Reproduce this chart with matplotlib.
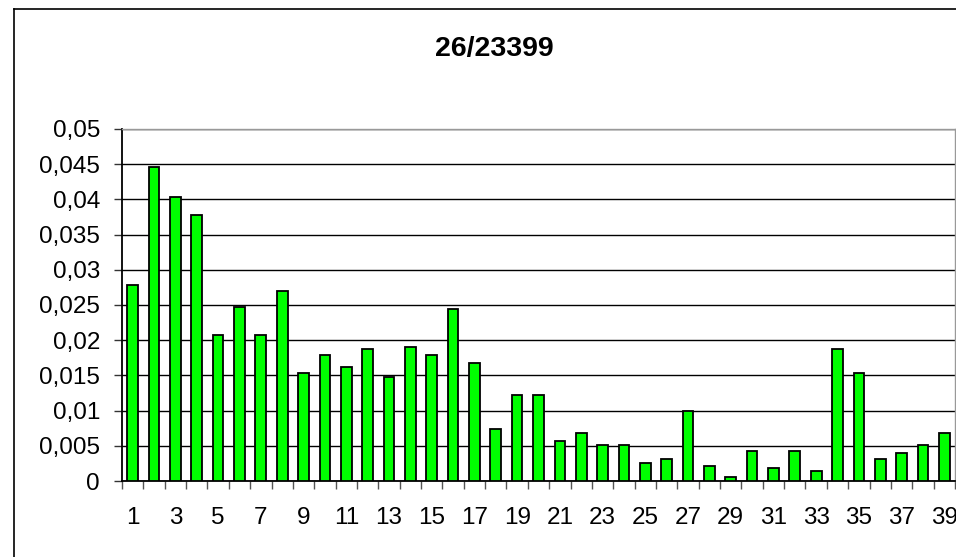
import numpy as np
import matplotlib
matplotlib.use('Agg')
import matplotlib.pyplot as plt
from matplotlib.lines import Line2D
from matplotlib.ticker import FuncFormatter, FixedLocator

plt.rcParams['font.family'] = ['Liberation Sans', 'DejaVu Sans']

title = '26/23399'
categories = list(range(1, 40))
values = [0.0279, 0.0446, 0.0403, 0.0378, 0.0208, 0.0247, 0.0208, 0.0270,
          0.0153, 0.0179, 0.0162, 0.0188, 0.0148, 0.0190, 0.0179, 0.0244,
          0.0167, 0.0074, 0.0122, 0.0122, 0.0057, 0.0068, 0.0051, 0.0051,
          0.0026, 0.0031, 0.0099, 0.0022, 0.0005, 0.0042, 0.0019, 0.0042,
          0.0014, 0.0187, 0.0153, 0.0031, 0.0040, 0.0051, 0.0068]
y_ticks = np.arange(0, 0.0501, 0.005)

W, H = 956, 557
fig = plt.figure(figsize=(W / 100, H / 100), dpi=100)
fig.patch.set_facecolor('white')

# plot area in pixels: x 122..955, y 129..481
ax = fig.add_axes([122 / W, 1 - 481 / H, (955 - 122) / W, (481 - 129) / H])

x = np.arange(len(categories))
ax.bar(x, values, width=0.5, color='#00ff00', edgecolor='black',
       linewidth=1.3, zorder=3)

ax.set_xlim(-0.5, len(categories) - 0.5)
ax.set_ylim(0, 0.05)

# horizontal grid
ax.set_yticks(y_ticks)
ax.yaxis.grid(True, color='black', linewidth=1.0, zorder=1)
ax.set_axisbelow(True)
ax.yaxis.set_major_formatter(FuncFormatter(lambda v, p: f'{v:g}'.replace('.', ',')))
ax.tick_params(axis='y', length=5.8, width=1, color='#333333', pad=10,
               labelsize=17.5, direction='out')

# x: boundary ticks as minor, labels on odd categories
ax.xaxis.set_minor_locator(FixedLocator(np.arange(-0.5, len(categories), 1.0)))
ax.set_xticks(x[::2])
ax.set_xticklabels([str(c) for c in categories[::2]])
ax.tick_params(axis='x', which='major', length=0, pad=19, labelsize=17.5)
ax.tick_params(axis='x', which='minor', length=5.8, width=1, color='#555555',
               direction='out')

for side in ['left', 'bottom']:
    ax.spines[side].set_color('black')
    ax.spines[side].set_linewidth(1.3)
for side in ['top', 'right']:
    ax.spines[side].set_color('#999999')
    ax.spines[side].set_linewidth(1.0)

fig.text(494 / W, 1 - 49 / H, title, ha='center', va='center',
         fontsize=20.5, fontweight='bold')

# chart border (left and top, rest cut off)
fig.add_artist(Line2D([14 / W, 14 / W], [0, 1 - 9 / H], color='black',
                      linewidth=1.2, transform=fig.transFigure))
fig.add_artist(Line2D([14 / W, 1], [1 - 9 / H, 1 - 9 / H], color='black',
                      linewidth=1.2, transform=fig.transFigure))

fig.savefig('out.png', dpi=100)
